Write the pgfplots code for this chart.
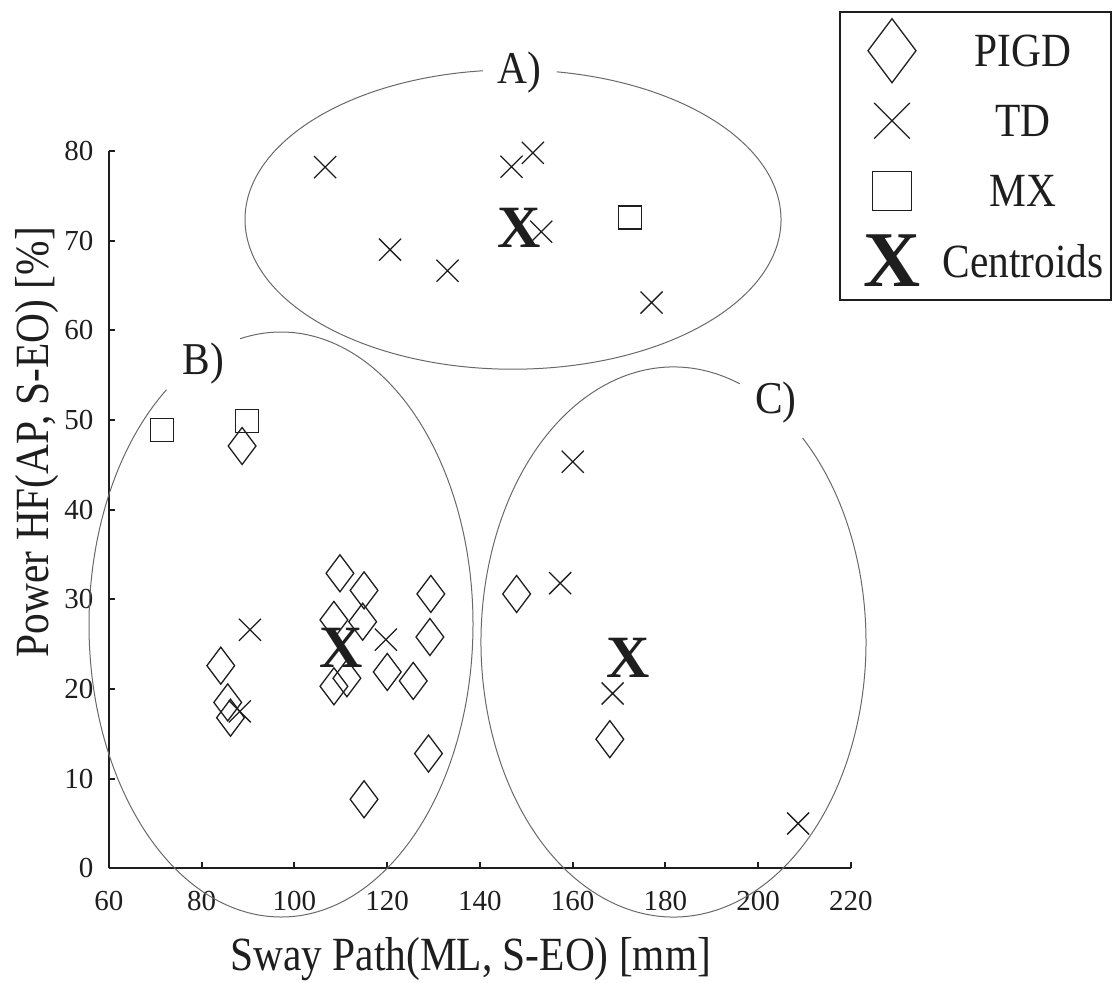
\documentclass[border=0pt]{standalone}
\usepackage{fontspec}
\setmainfont{Liberation Serif}
\usepackage{graphicx}
\usepackage{pgfplots}
\pgfplotsset{compat=1.18}
\definecolor{ink}{RGB}{30,30,30}
\definecolor{ell}{RGB}{105,105,105}
\newcommand{\lblfont}{\fontsize{20.7}{24}\selectfont}
\newcommand{\tall}[1]{\scalebox{1}[1.15]{#1}}
\begin{document}
\begin{tikzpicture}
\begin{axis}[
  scale only axis, width=371pt, height=358.65pt,
  xmin=60, xmax=220, ymin=0, ymax=80,
  axis lines=left, axis line style={-, ink, line width=1pt},
  xtick={60,80,...,220}, ytick={0,10,...,80},
  tick align=inside, major tick length=3pt,
  tick style={ink, line width=1pt},
  ticklabel style={font=\fontsize{14.5}{16}\selectfont, text=ink},
  xticklabel style={yshift=-8pt},
  yticklabel style={xshift=-4.25pt},
  /pgf/number format/assume math mode=true,
  clip=false,
  legend style={at={(axis description cs:0.9842,1.1956)}, anchor=north west,
    draw=ink, line width=1pt, inner xsep=2pt, inner ysep=2pt,
    row sep=0pt, column sep=9.25pt,
    nodes={inner sep=0pt, text depth=0pt, minimum height=35pt, text width=84pt,
      align=center, font=\lblfont, text=ink}},
  legend image code/.code={\path[draw=none, fill=none] (-23.85pt,0pt) -- (14.25pt,0pt);
    \draw[#1] plot coordinates {(0pt,0pt)};},
]
% legend images
\addlegendimage{only marks, mark=diamond, mark size=16pt, ink, mark options={line width=0.65pt}}
\addlegendentry{\tall{PIGD}}
\addlegendimage{only marks, mark=x, mark size=12.6pt, ink, mark options={line width=0.65pt}}
\addlegendentry{\tall{TD}}
\addlegendimage{only marks, mark=square, mark size=9.75pt, ink, mark options={line width=0.65pt}}
\addlegendentry{\tall{MX}}
\addlegendimage{legend image code/.code={\path[draw=none, fill=none] (-23.85pt,0pt) -- (14.25pt,0pt);
    \pgftext{\color{ink}\fontsize{39.5}{40}\bfseries\selectfont X}}}
\addlegendentry{\tall{Centroids}}

% PIGD
\addplot[forget plot, only marks, mark=diamond, mark size=9.25pt, ink, mark options={line width=0.65pt}]
coordinates {
(88.7,47.1) (84.1,22.6) (85.6,18.5) (86.2,16.8)
(109.8,32.9) (115.0,31.0) (129.4,30.6) (108.5,27.7) (114.7,27.5)
(129.2,25.8) (120.0,21.9) (125.6,20.9) (108.5,20.3) (111.3,21.2)
(128.9,12.8) (115.0,7.7) (147.9,30.6) (168.0,14.4)
};
% TD
\addplot[forget plot, only marks, mark=x, mark size=7.8pt, ink, mark options={line width=0.65pt}]
coordinates {
(106.6,78.2) (120.6,69.0) (133.0,66.65) (146.8,78.25) (151.4,79.8)
(153.2,71.0) (177.0,63.1) (160.0,45.35) (157.3,31.8) (168.6,19.5)
(208.6,5.0) (90.4,26.6) (88.2,17.5) (119.7,25.5)
};
% MX
\addplot[forget plot, only marks, mark=square, mark size=5.75pt, ink, mark options={line width=0.65pt}]
coordinates {
(71.4,48.9) (89.7,49.9) (172.3,72.6)
};
% Centroids
\addplot[forget plot, only marks, mark=text, text mark={X}, text mark as node=true,
  text mark style={font=\fontsize{30}{30}\bfseries\selectfont, inner sep=0pt, text=ink}]
coordinates {
(148.4,71.4) (110.0,24.55) (172.0,23.45)
};

\coordinate (cA) at (axis cs:147.12,72.36);
\coordinate (cB) at (axis cs:97.09,27.19);
\coordinate (cC) at (axis cs:181.73,25.24);
\end{axis}

\draw[ell, line width=0.5pt] ([shift={(96.4:134pt and 74.85pt)}]cA)
  arc[start angle=96.4, end angle=440.6, x radius=134pt, y radius=74.85pt];
\draw[ell, line width=0.5pt] ([shift={(126.6:96pt and 146.25pt)}]cB)
  arc[start angle=126.6, end angle=462.3, x radius=96pt, y radius=146.25pt];
\draw[ell, line width=0.5pt] ([shift={(69.9:96.25pt and 137.5pt)}]cC)
  arc[start angle=69.9, end angle=407.9, x radius=96.25pt, y radius=137.5pt];

\node[anchor=base, font=\lblfont, text=ink, inner sep=0pt] at (205pt,392.15pt) {\scalebox{1}[1.1]{A)}};
\node[anchor=base, font=\lblfont, text=ink, inner sep=0pt] at (47.35pt,246.65pt) {\scalebox{1}[1.1]{B)}};
\node[anchor=base, font=\lblfont, text=ink, inner sep=0pt] at (333.5pt,227.5pt) {\scalebox{1}[1.1]{C)}};

\node[anchor=base, font=\lblfont, text=ink, inner sep=0pt] at (180.85pt,-50.85pt) {\tall{Sway Path(ML, S-EO) [mm]}};
\node[anchor=base, rotate=90, font=\lblfont, text=ink, inner sep=0pt] at (-30pt,213.15pt) {\tall{Power HF(AP, S-EO) [\%]}};

\pgfresetboundingbox
\path (-54.5pt,-56.85pt) rectangle (503.5pt,434.15pt);
\end{tikzpicture}
\end{document}
